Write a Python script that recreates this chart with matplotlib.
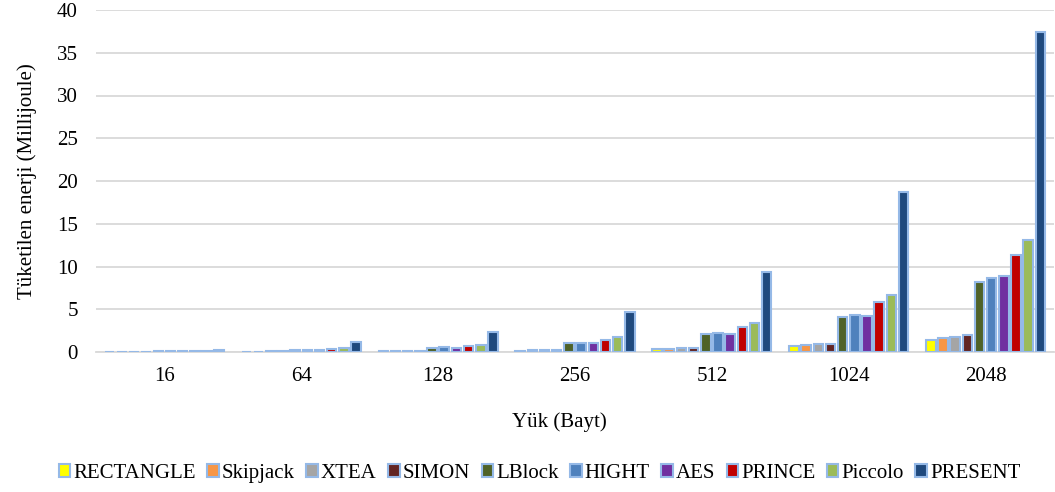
import numpy as np
import matplotlib.pyplot as plt

plt.rcParams['font.family'] = ['Liberation Serif', 'DejaVu Serif']

payloads = ['16', '64', '128', '256', '512', '1024', '2048']
ciphers = ['RECTANGLE', 'Skipjack', 'XTEA', 'SIMON', 'LBlock', 'HIGHT', 'AES', 'PRINCE', 'Piccolo', 'PRESENT']
colors = ['#FFFF00', '#F79646', '#A5A5A5', '#632523', '#4F6228', '#4F81BD', '#7030A0', '#C00000', '#9BBB59', '#1F497D']

# energy (millijoule) per cipher, one value per payload size
RECTANGLE = [0.01, 0.04, 0.09, 0.17, 0.34, 0.68, 1.35]
Skipjack  = [0.012, 0.05, 0.10, 0.20, 0.40, 0.80, 1.60]
XTEA      = [0.014, 0.06, 0.11, 0.22, 0.44, 0.88, 1.75]
SIMON     = [0.015, 0.06, 0.12, 0.25, 0.49, 0.97, 1.95]
LBlock    = [0.064, 0.26, 0.51, 1.03, 2.05, 4.10, 8.20]
HIGHT     = [0.069, 0.28, 0.55, 1.10, 2.20, 4.35, 8.60]
AES       = [0.066, 0.26, 0.52, 1.05, 2.10, 4.20, 8.90]
PRINCE    = [0.09, 0.36, 0.73, 1.45, 2.90, 5.80, 11.40]
Piccolo   = [0.11, 0.43, 0.85, 1.70, 3.40, 6.70, 13.10]
PRESENT   = [0.29, 1.17, 2.35, 4.70, 9.35, 18.70, 37.40]
values = [RECTANGLE, Skipjack, XTEA, SIMON, LBlock, HIGHT, AES, PRINCE, Piccolo, PRESENT]

fig = plt.figure(figsize=(10.55, 4.92), dpi=100)
ax = fig.add_axes([96/1055, 1 - 352/492, 958/1055, 342/492])

x = np.arange(len(payloads))
n = len(ciphers)
slot = 0.089
for i, (name, vals, c) in enumerate(zip(ciphers, values, colors)):
    ax.bar(x + (i - (n - 1) / 2) * slot, vals, width=slot * 0.78, color=c,
           edgecolor='#95B9E7', linewidth=1.5, label=name, zorder=3)

ax.set_xlim(-0.5, len(payloads) - 0.5)
ax.set_ylim(0, 40)
ax.set_yticks(range(0, 41, 5))
ax.set_xticks(x)
ax.set_xticklabels(payloads)
ax.yaxis.grid(True, color='#D9D9D9', linewidth=1.3, zorder=0)
for s in ['top', 'right', 'left']:
    ax.spines[s].set_visible(False)
ax.spines['bottom'].set_color('#D9D9D9')
ax.spines['bottom'].set_linewidth(1.3)
ax.tick_params(axis='both', length=0, labelsize=15)
ax.tick_params(axis='x', pad=11)
ax.tick_params(axis='y', pad=13)

ax.set_ylabel('Tüketilen enerji (Millijoule)', fontsize=15, labelpad=14)
ax.set_xlabel('Yük (Bayt)', fontsize=15, labelpad=19)
ax.xaxis.set_label_coords(0.484, -0.175)

ax.legend(loc='center', bbox_to_anchor=(0.463, -0.355), ncol=n, frameon=False,
          fontsize=15, handlelength=0.55, handleheight=0.55, handletextpad=0.15,
          columnspacing=0.55, borderaxespad=0)

fig.savefig('out.png', dpi=100)
